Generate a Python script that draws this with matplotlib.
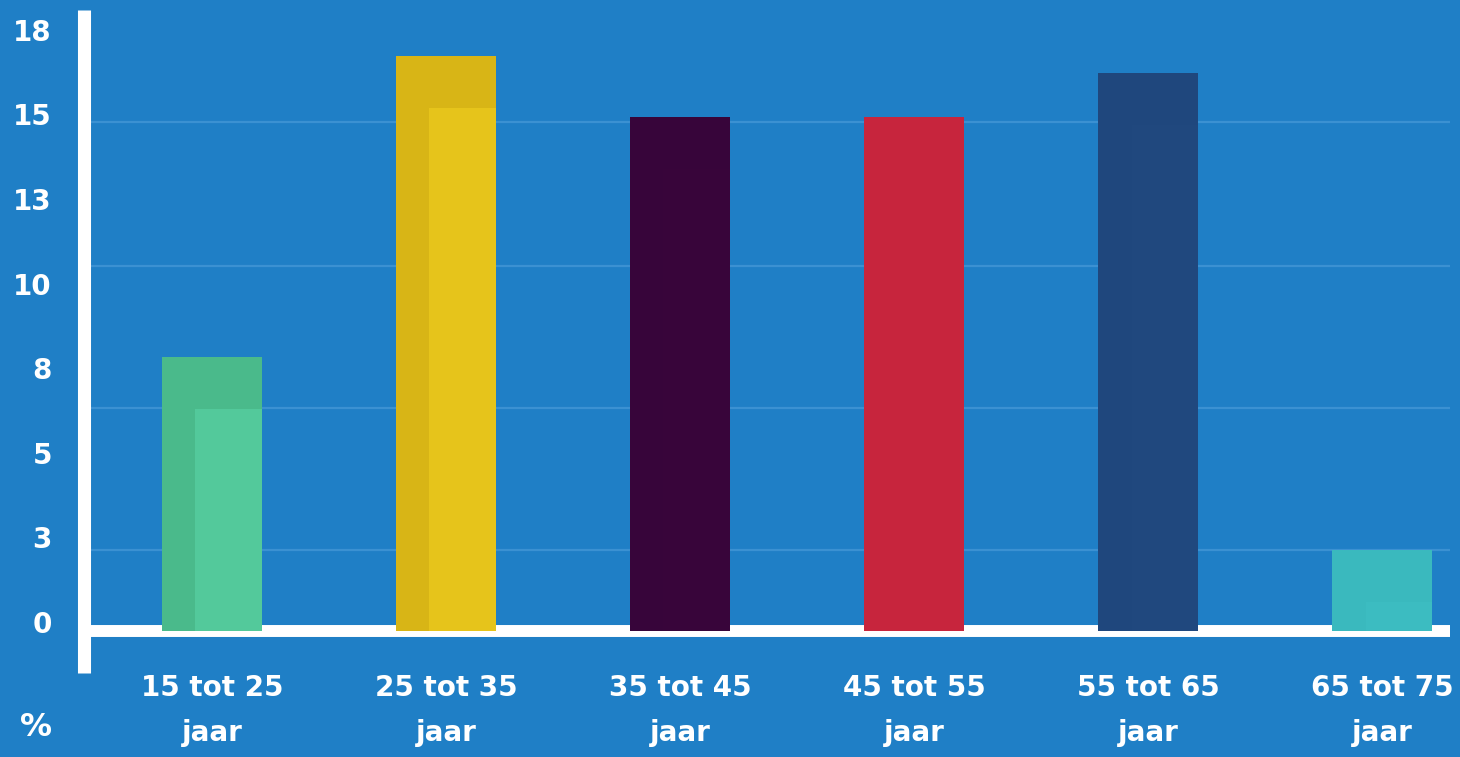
import numpy as np
import matplotlib.pyplot as plt
import matplotlib.transforms as mtransforms

# DATA SECTION------------------------------------------------------------------
categories = ["15 tot 25\njaar", "25 tot 35\njaar", "35 tot 45\njaar",
              "45 tot 55\njaar", "55 tot 65\njaar", "65 tot 75\njaar"]
values = [8.1, 17.0, 15.2, 15.2, 16.5, 2.4]
tick_values = [0, 2.5, 5, 7.5, 10, 12.5, 15, 17.5]
tick_labels = ["0", "3", "5", "8", "10", "13", "15", "18"]
grid_values = [2.4, 6.6, 10.8, 15.05]

# STYLE SECTION-----------------------------------------------------------------
bg = "#1f7fc6"
grid_col = "#3b91d2"
dark_cols = ["#4aba8b", "#d8b516", "#37053a", "#c7253d", "#1f477d", "#3ab9be"]
light_cols = ["#53c99b", "#e6c41b", "#38053a", "#c7253d", "#20487e", "#3cbcc1"]
shade_top = 1.55     # height of the darker cap on each bar
bw = 0.425           # bar width

W, H = 1460, 757
fig = plt.figure(figsize=(W/100, H/100), dpi=100, facecolor=bg)
ax = fig.add_axes([83.5/W, (H-673)/H, (1450-83.5)/W, (673-10)/H])
ax.set_facecolor(bg)

x = np.arange(len(categories))
ax.set_xlim(-0.549, 5.29)
ax.set_ylim(-1.24, 18.35)

# gridlines and baseline
for g in grid_values:
    ax.axhline(g, color=grid_col, lw=1.6, zorder=1)
ax.axhline(0, color="white", lw=8.6, solid_capstyle="butt", zorder=2)

# bars: darker body with lighter inner face
ax.bar(x, values, width=bw, color=dark_cols, zorder=3)
inner = [max(v - shade_top, 0) for v in values]
ax.bar(x + bw/6, inner, width=bw*2/3, color=light_cols, zorder=4)

# axes styling
for s in ["top", "right", "bottom"]:
    ax.spines[s].set_visible(False)
ax.spines["left"].set_color("white")
ax.spines["left"].set_linewidth(9.4)
ax.spines["left"].set_capstyle("butt")

ax.set_yticks(tick_values, tick_labels)
ax.set_xticks(x, categories)
ax.tick_params(axis="y", length=0, pad=22.7, labelsize=20, labelcolor="white")
ax.tick_params(axis="x", length=0, pad=1, labelsize=20, labelcolor="white")
for lab in ax.get_yticklabels():
    lab.set_fontweight("bold")
    lab.set_transform(lab.get_transform() +
                      mtransforms.ScaledTranslation(0, 0.09, fig.dpi_scale_trans))
for lab in ax.get_xticklabels():
    lab.set_fontweight("bold")
    lab.set_linespacing(1.75)

fig.text(36/W, 1 - 727/H, "%", ha="center", va="center", color="white",
         fontsize=23, fontweight="bold")

fig.savefig("out.png", dpi=100, facecolor=bg)
